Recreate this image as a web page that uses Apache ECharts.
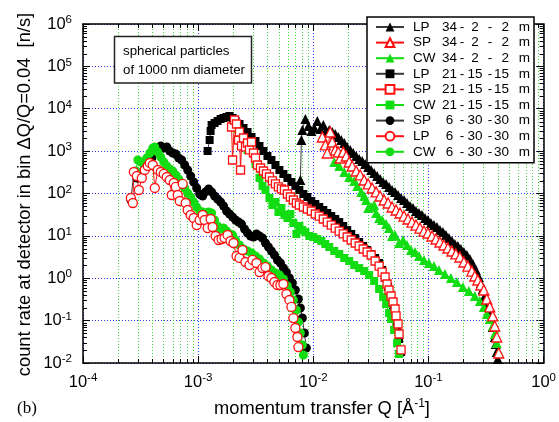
<!DOCTYPE html>
<html>
<head>
<meta charset="utf-8">
<script src="https://cdn.jsdelivr.net/npm/echarts@6/dist/echarts.min.js"></script>
<style>
  html, body { margin: 0; padding: 0; background: #fff; }
  #chart { width: 559px; height: 422px; }
</style>
</head>
<body>
<div id="chart"></div>
<script>
// Momentum transfer Q [1/Å] and count rate [n/s] for each instrument setting.

// collimation 34 m, detector 2 m
const lp34Q = [7.72e-3,7.88e-3,8.04e-3,8.53e-3,9.06e-3,9.62e-3,1.020e-2,1.083e-2,1.150e-2,1.221e-2,1.296e-2,1.376e-2,1.461e-2,1.551e-2,1.646e-2,1.748e-2,1.856e-2,1.970e-2,2.092e-2,2.220e-2,2.357e-2,2.502e-2,2.656e-2,2.820e-2,2.994e-2,3.178e-2,3.374e-2,3.582e-2,3.803e-2,4.037e-2,4.286e-2,4.550e-2,4.830e-2,5.128e-2,5.444e-2,5.780e-2,6.136e-2,6.514e-2,6.916e-2,7.341e-2,7.793e-2,8.273e-2,8.783e-2,9.325e-2,9.901e-2,0.1051,0.1116,0.1185,0.1258,0.1335,0.1418,0.1505,0.1598,0.1696,0.1801,0.1912,0.2030,0.2155,0.2288,0.2429,0.2579,0.2737,0.2848,0.2964,0.3085,0.3210,0.3341,0.3476,0.3618,0.3765,0.3841,0.3919,0.3998];
const lp34Rate = [208,1832,3154,5731,3919,2987,3516,5141,3330,4138,2987,3154,2829,2538,2157,1832,1557,1253,1065,903,767,652,585,497,422,359,305,259,220,187,168,143,121,109,92.2,78.3,70.3,59.7,50.7,45.5,38.6,34.7,31.1,26.4,23.7,20.1,18.0,16.2,13.7,12.3,10.5,8.91,7.57,6.43,5.77,4.90,4.16,3.54,2.85,2.17,1.57,1.07,0.773,0.558,0.381,0.261,0.169,0.109,0.0707,0.0411,0.0281,0.0182,0.0124];

const sp34Q = [1.197e-2,1.271e-2,1.322e-2,1.404e-2,1.461e-2,1.551e-2,1.646e-2,1.713e-2,1.819e-2,1.931e-2,2.050e-2,2.177e-2,2.357e-2,2.553e-2,2.764e-2,2.994e-2,3.242e-2,3.512e-2,3.803e-2,4.119e-2,4.460e-2,4.830e-2,5.231e-2,5.666e-2,6.136e-2,6.645e-2,7.197e-2,7.793e-2,8.440e-2,9.141e-2,9.901e-2,0.1073,0.1162,0.1258,0.1362,0.1476,0.1598,0.1730,0.1875,0.2030,0.2199,0.2381,0.2527,0.2683,0.2848,0.3024,0.3210,0.3408,0.3618,0.3765,0.3919,0.4077];
const sp34Rate = [2157,1397,903,2829,1644,1065,954,688,954,767,554,446,340,274,208,168,135,109,87.3,70.3,59.7,48.0,40.8,34.7,29.4,25.0,21.2,18.0,15.3,13.0,11.7,9.93,8.44,7.17,6.09,5.17,4.40,3.74,3.17,2.42,1.94,1.48,1.13,0.909,0.693,0.528,0.324,0.210,0.129,0.0747,0.0411,0.0172];

const cw34Q = [1.520e-2,1.679e-2,1.856e-2,2.050e-2,2.265e-2,2.405e-2,2.604e-2,2.764e-2,2.877e-2,2.994e-2,3.178e-2,3.374e-2,3.512e-2,3.728e-2,3.958e-2,4.286e-2,4.550e-2,4.830e-2,5.128e-2,5.554e-2,6.015e-2,6.514e-2,7.055e-2,7.640e-2,8.273e-2,9.141e-2,0.1010,0.1116,0.1233,0.1390,0.1567,0.1765,0.1990,0.2242,0.2527,0.2792,0.3024,0.3210,0.3408,0.3618,0.3765,0.3919,0.4077];
const cw34Rate = [554,446,322,245,198,151,109,87.3,70.3,45.5,48.0,53.5,34.7,26.4,23.7,19.0,15.3,9.93,10.5,6.79,7.99,6.09,4.64,4.16,3.35,2.70,2.29,1.94,1.57,1.26,1.014,0.816,0.622,0.500,0.381,0.291,0.210,0.143,0.109,0.0747,0.0483,0.0296,0.0182];

// collimation 21 m, detector 15 m
const lp21Q = [1.208e-3,1.258e-3,1.283e-3,1.309e-3,1.389e-3,1.475e-3,1.566e-3,1.662e-3,1.765e-3,1.873e-3,1.989e-3,2.112e-3,2.287e-3,2.477e-3,2.683e-3,2.906e-3,3.147e-3,3.408e-3,3.691e-3,3.997e-3,4.329e-3,4.689e-3,5.078e-3,5.500e-3,5.957e-3,6.452e-3,6.988e-3,7.568e-3,8.197e-3,8.878e-3,9.615e-3,1.041e-2,1.127e-2,1.221e-2,1.322e-2,1.432e-2,1.551e-2,1.679e-2,1.819e-2,1.970e-2,2.134e-2,2.311e-2,2.502e-2,2.710e-2,2.935e-2,3.178e-2,3.442e-2,3.728e-2,3.958e-2,4.201e-2,4.460e-2,4.735e-2,4.928e-2,5.128e-2,5.337e-2,5.554e-2,5.780e-2];
const lp21Rate = [1007,1832,2987,4138,4612,5141,5731,6051,6389,6745,6051,5141,4368,3516,2829,2157,1736,1323,1007,767,618,471,359,289,232,187,151,121,97.3,82.7,66.5,56.5,48.0,40.8,34.7,29.4,25.0,21.2,17.1,13.7,11.1,8.91,7.17,5.77,4.64,3.74,3.01,2.29,1.57,1.014,0.622,0.361,0.222,0.129,0.0707,0.0368,0.0182];

const sp21Q = [1.950e-3,1.989e-3,2.070e-3,2.154e-3,2.242e-3,2.287e-3,2.333e-3,2.380e-3,2.477e-3,2.578e-3,2.683e-3,2.792e-3,2.906e-3,3.024e-3,3.147e-3,3.275e-3,3.477e-3,3.691e-3,3.918e-3,4.160e-3,4.416e-3,4.689e-3,4.978e-3,5.285e-3,5.611e-3,5.957e-3,6.324e-3,6.714e-3,7.128e-3,7.568e-3,8.197e-3,8.878e-3,9.615e-3,1.041e-2,1.127e-2,1.221e-2,1.322e-2,1.432e-2,1.551e-2,1.679e-2,1.819e-2,1.970e-2,2.134e-2,2.311e-2,2.502e-2,2.710e-2,2.935e-2,3.178e-2,3.442e-2,3.728e-2,3.958e-2,4.201e-2,4.372e-2,4.550e-2,4.735e-2,4.928e-2,5.128e-2,5.231e-2,5.444e-2,5.554e-2,5.780e-2];
const sp21Rate = [3712,618,5428,4368,1832,2829,359,1323,2043,1253,1557,1065,1644,903,688,471,400,340,289,245,198,168,143,128,121,97.3,82.7,70.3,59.7,53.5,48.0,43.1,38.6,32.8,29.4,25.0,21.2,18.0,15.3,13.0,11.1,9.41,7.99,6.79,5.77,4.90,4.16,3.54,2.55,1.94,1.40,1.07,0.732,0.528,0.381,0.275,0.188,0.129,0.0832,0.0483,0.0203];

const cw21Q = [2.198e-3,2.683e-3,3.147e-3,3.408e-3,3.618e-3,3.841e-3,4.160e-3,4.416e-3,4.689e-3,4.978e-3,5.285e-3,5.611e-3,5.957e-3,6.324e-3,6.714e-3,7.128e-3,7.568e-3,8.035e-3,8.530e-3,9.239e-3,1.000e-2,1.083e-2,1.173e-2,1.271e-2,1.376e-2,1.520e-2,1.679e-2,1.856e-2,2.050e-2,2.265e-2,2.502e-2,2.764e-2,3.054e-2,3.374e-2,3.728e-2,4.037e-2,4.286e-2,4.550e-2,4.735e-2,5.027e-2,5.337e-2,5.554e-2];
const cw21Rate = [3330,1065,497,232,151,121,78.3,53.5,63.0,36.6,45.5,31.1,26.4,32.8,20.1,11.1,17.1,13.7,12.3,9.93,9.41,8.44,7.57,6.43,5.46,4.40,3.74,3.01,2.55,2.05,1.74,1.48,1.19,0.861,0.558,0.361,0.247,0.151,0.109,0.0601,0.0296,0.0163];

// collimation 6 m, detector 30 m
const sp6Q = [2.604e-4,2.764e-4,2.935e-4,3.116e-4,3.374e-4,3.654e-4,3.958e-4,4.201e-4,4.460e-4,4.735e-4,5.027e-4,5.337e-4,5.666e-4,6.015e-4,6.386e-4,6.779e-4,7.197e-4,7.640e-4,8.110e-4,8.610e-4,9.141e-4,9.705e-4,1.030e-3,1.094e-3,1.161e-3,1.233e-3,1.309e-3,1.389e-3,1.475e-3,1.566e-3,1.662e-3,1.765e-3,1.873e-3,1.989e-3,2.112e-3,2.242e-3,2.380e-3,2.527e-3,2.683e-3,2.848e-3,3.024e-3,3.210e-3,3.408e-3,3.618e-3,3.841e-3,4.078e-3,4.329e-3,4.596e-3,4.880e-3,5.181e-3,5.500e-3,5.839e-3,6.199e-3,6.582e-3,6.988e-3,7.419e-3,7.721e-3,8.035e-3,8.362e-3,8.702e-3];
const sp6Rate = [70.3,322,232,289,359,446,688,954,1124,1323,1187,1253,1007,903,855,688,618,471,359,259,187,135,97.3,87.3,109,128,109,87.3,74.2,63.0,50.7,38.6,32.8,27.9,23.7,21.2,19.0,14.5,11.7,9.93,9.41,11.1,9.93,8.91,6.79,5.46,4.40,3.54,2.70,2.29,1.74,1.40,1.014,0.773,0.528,0.324,0.199,0.115,0.0510,0.0226];

const lp6Q = [2.604e-4,2.710e-4,2.764e-4,2.935e-4,3.054e-4,3.242e-4,3.442e-4,3.654e-4,3.803e-4,4.037e-4,4.201e-4,4.460e-4,4.735e-4,5.027e-4,5.337e-4,5.666e-4,5.896e-4,6.136e-4,6.386e-4,6.645e-4,6.916e-4,7.341e-4,7.793e-4,8.110e-4,8.610e-4,9.141e-4,9.705e-4,1.030e-3,1.094e-3,1.138e-3,1.208e-3,1.283e-3,1.335e-3,1.417e-3,1.505e-3,1.597e-3,1.696e-3,1.800e-3,1.911e-3,2.029e-3,2.154e-3,2.287e-3,2.428e-3,2.578e-3,2.792e-3,2.964e-3,3.210e-3,3.408e-3,3.618e-3,3.841e-3,4.078e-3,4.329e-3,4.596e-3,4.880e-3,5.181e-3,5.500e-3,5.839e-3,6.199e-3,6.452e-3,6.714e-3,6.988e-3,7.272e-3,7.419e-3];
const lp6Rate = [78.3,59.7,322,259,121,232,359,446,525,471,135,359,322,289,245,208,92.2,177,143,92.2,66.5,168,59.7,40.8,31.1,26.4,18.0,23.7,31.1,23.7,15.3,25.0,16.2,9.93,7.99,8.44,8.91,10.5,7.57,6.79,3.35,3.01,4.64,2.42,2.05,2.70,2.29,1.40,1.74,1.84,1.13,1.014,0.816,0.693,0.693,0.732,0.425,0.307,0.210,0.115,0.0670,0.0411,0.0238];

const cw6Q = [2.877e-4,2.994e-4,3.178e-4,3.374e-4,3.582e-4,3.803e-4,4.037e-4,4.201e-4,4.460e-4,4.735e-4,5.027e-4,5.337e-4,5.666e-4,6.015e-4,6.386e-4,6.779e-4,7.197e-4,7.640e-4,8.110e-4,8.610e-4,9.141e-4,9.705e-4,1.030e-3,1.094e-3,1.161e-3,1.233e-3,1.309e-3,1.389e-3,1.475e-3,1.566e-3,1.662e-3,1.765e-3,1.873e-3,1.989e-3,2.112e-3,2.287e-3,2.477e-3,2.683e-3,2.906e-3,3.147e-3,3.408e-3,3.691e-3,3.997e-3,4.329e-3,4.689e-3,5.078e-3,5.500e-3,5.957e-3,6.324e-3,6.714e-3,7.128e-3,7.419e-3,7.721e-3,8.035e-3,8.197e-3];
const cw6Rate = [340,618,554,497,688,903,1187,1253,954,727,554,446,379,340,274,220,177,135,103,82.7,63.0,48.0,38.6,36.6,34.7,36.6,34.7,23.7,17.1,14.5,15.3,13.0,11.1,10.5,7.99,6.09,4.90,4.40,3.94,3.35,2.85,2.29,1.94,1.57,1.33,1.19,0.960,0.656,0.474,0.307,0.178,0.0928,0.0510,0.0266,0.0154];

// legend text columns
const legendMode  = ['LP', 'SP', 'CW', 'LP', 'SP', 'CW', 'SP', 'LP', 'CW'];
const legendSetup = [['34','2','2'], ['34','2','2'], ['34','2','2'],
                     ['21','15','15'], ['21','15','15'], ['21','15','15'],
                     ['6','30','30'], ['6','30','30'], ['6','30','30']];

// axis ranges (decades) and minor tick mantissas
const qDecades    = [1e-4, 1e-3, 1e-2, 1e-1, 1];
const rateDecades = [1e-2, 1e-1, 1, 1e1, 1e2, 1e3, 1e4, 1e5, 1e6];
const mantissas   = [2, 3, 4, 5, 6, 7, 8, 9];

const FONT = '"Liberation Sans", Arial, Helvetica, sans-serif';
const BLACK = '#000000', RED = '#ff1010', GREEN = '#12dc12';
const Q_MIN = qDecades[0], Q_MAX = qDecades[qDecades.length - 1];
const R_MIN = rateDecades[0], R_MAX = rateDecades[rateDecades.length - 1];

const zip = (q, r) => q.map((v, i) => [v, r[i]]);

const seriesNames = legendMode.map((m, i) => m + ' ' + legendSetup[i].join('-') + ' m');

// [index in legend, Q, rate, symbol, size, edge colour, fill, line colour]
const plotOrder = [
  [0, lp34Q, lp34Rate, 'triangle', 10, BLACK, BLACK, '#3a3a3a'],
  [3, lp21Q, lp21Rate, 'rect', 8, BLACK, BLACK, '#3a3a3a'],
  [6, sp6Q, sp6Rate, 'circle', 9, BLACK, BLACK, '#3a3a3a'],
  [2, cw34Q, cw34Rate, 'triangle', 10, GREEN, GREEN, GREEN],
  [5, cw21Q, cw21Rate, 'rect', 8, GREEN, GREEN, GREEN],
  [8, cw6Q, cw6Rate, 'circle', 9, GREEN, GREEN, GREEN],
  [1, sp34Q, sp34Rate, 'triangle', 10, RED, '#ffffff', RED],
  [4, sp21Q, sp21Rate, 'rect', 8, RED, '#ffffff', RED],
  [7, lp6Q, lp6Rate, 'circle', 9, RED, '#ffffff', RED]
];

const dataSeries = plotOrder.map(([k, q, r, sym, size, edge, fill, line]) => ({
  name: seriesNames[k],
  type: 'line',
  data: zip(q, r),
  symbol: sym,
  symbolSize: size,
  showAllSymbol: true,
  lineStyle: { color: line, width: 1 },
  itemStyle: { color: fill, borderColor: edge, borderWidth: fill === '#ffffff' ? 1.3 : 0 },
  emphasis: { disabled: true },
  silent: true,
  z: 3
}));

const qMinor = [];
qDecades.slice(0, -1).forEach(d => mantissas.forEach(m => qMinor.push([d * m, R_MIN])));
const rateMinor = [];
rateDecades.slice(0, -1).forEach(d => mantissas.forEach(m => rateMinor.push([Q_MIN, d * m])));

// green dotted minor grid with short inner ticks on bottom and top edges
const qMinorSeries = {
  type: 'custom', silent: true, z: 1, clip: false,
  data: qMinor,
  renderItem(params, api) {
    const v = api.value(0);
    const b = api.coord([v, R_MIN]), t = api.coord([v, R_MAX]);
    const x = Math.round(b[0]) + 0.5;
    return { type: 'group', children: [
      { type: 'line', shape: { x1: x, y1: b[1], x2: x, y2: t[1] },
        style: { stroke: '#3ddc3d', lineWidth: 1, lineDash: [1, 2] } },
      { type: 'line', shape: { x1: x, y1: b[1], x2: x, y2: b[1] - 4 },
        style: { stroke: '#000', lineWidth: 1 } },
      { type: 'line', shape: { x1: x, y1: t[1], x2: x, y2: t[1] + 4 },
        style: { stroke: '#000', lineWidth: 1 } }
    ]};
  }
};

// minor ticks on the left and right edges
const rateMinorSeries = {
  type: 'custom', silent: true, z: 4, clip: false,
  data: rateMinor,
  renderItem(params, api) {
    const v = api.value(1);
    const l = api.coord([Q_MIN, v]), r = api.coord([Q_MAX, v]);
    const y = Math.round(l[1]) + 0.5;
    return { type: 'group', children: [
      { type: 'line', shape: { x1: l[0], y1: y, x2: l[0] + 4, y2: y },
        style: { stroke: '#000', lineWidth: 1 } },
      { type: 'line', shape: { x1: r[0], y1: y, x2: r[0] - 4, y2: y },
        style: { stroke: '#000', lineWidth: 1 } }
    ]};
  }
};

const expLabel = v => '{b|10}{s|' + Math.round(Math.log10(v)) + '}';
const tickRich = {
  b: { fontSize: 16.5, fontFamily: FONT, color: '#000', lineHeight: 20 },
  s: { fontSize: 11.5, fontFamily: FONT, color: '#000', verticalAlign: 'top', lineHeight: 13 }
};

const frameLine = { show: true, onZero: false, lineStyle: { color: '#000', width: 1.5 } };
const majorTick = { show: true, inside: true, length: 7, lineStyle: { color: '#000', width: 1 } };
const blueGrid = { show: true, lineStyle: { color: '#2a3cff', width: 1, type: [1, 2] } };

const legendRich = {};
const tokenWidths = { g: [4, 'left'], md: [29, 'left'], a: [15, 'right'], d1: [10, 'center'],
                      b: [16, 'right'], d2: [14, 'center'], c: [12, 'right'], u: [21, 'right'] };
Object.keys(tokenWidths).forEach(k => {
  legendRich[k] = { width: tokenWidths[k][0], align: tokenWidths[k][1], fontSize: 13.5,
                    fontFamily: FONT, color: '#000', lineHeight: 15.6 };
});

const option = {
  animation: false,
  backgroundColor: '#fff',
  grid: { left: 83, top: 24, right: 14, bottom: 59, containLabel: false },
  xAxis: [
    { type: 'log', logBase: 10, min: Q_MIN, max: Q_MAX, position: 'bottom',
      axisLine: frameLine, axisTick: majorTick, splitLine: blueGrid, minorTick: { show: false },
      axisLabel: { formatter: expLabel, rich: tickRich, margin: 9, showMinLabel: true, showMaxLabel: true } },
    { type: 'log', logBase: 10, min: Q_MIN, max: Q_MAX, position: 'top',
      axisLine: frameLine, axisTick: majorTick, splitLine: { show: false }, axisLabel: { show: false } }
  ],
  yAxis: [
    { type: 'log', logBase: 10, min: R_MIN, max: R_MAX, interval: 1, splitNumber: 8, position: 'left',
      axisLine: frameLine, axisTick: majorTick, splitLine: blueGrid,
      axisLabel: { formatter: expLabel, rich: tickRich, margin: 11, showMinLabel: true, showMaxLabel: true } },
    { type: 'log', logBase: 10, min: R_MIN, max: R_MAX, interval: 1, splitNumber: 8, position: 'right',
      axisLine: frameLine, axisTick: majorTick, splitLine: { show: false }, axisLabel: { show: false } }
  ],
  legend: {
    data: seriesNames,
    orient: 'vertical',
    left: 367, top: 17,
    padding: [2.2, 4, 3.2, 8],
    itemGap: 0,
    itemWidth: 28, itemHeight: 11,
    backgroundColor: '#fff',
    borderColor: '#000', borderWidth: 1.5,
    selectedMode: false,
    textStyle: { fontSize: 13.5, fontFamily: FONT, color: '#000', lineHeight: 15.6, rich: legendRich },
    formatter: name => {
      const i = seriesNames.indexOf(name);
      const s = legendSetup[i];
      return '{g| }{md|' + legendMode[i] + '}{a|' + s[0] + '}{d1|-}{b|' + s[1] + '}{d2|-}{c|' + s[2] + '}{u|m}';
    },
    z: 10
  },
  graphic: [
    { type: 'rect', z: 20, shape: { x: 114.5, y: 36.5, width: 137, height: 46.5 },
      style: { fill: '#fff', stroke: '#222', lineWidth: 1.5 } },
    { type: 'text', z: 21, x: 123, y: 51.5,
      style: { text: 'spherical particles', font: '13.3px ' + FONT, fill: '#000', verticalAlign: 'middle' } },
    { type: 'text', z: 21, x: 123, y: 70,
      style: { text: 'of 1000 nm diameter', font: '13.3px ' + FONT, fill: '#000', verticalAlign: 'middle' } },
    { type: 'text', z: 21, x: 24.5, y: 194.5, rotation: Math.PI / 2,
      style: { text: 'count rate at detector in bin \u0394Q/Q=0.04  [n/s]', font: '18.3px ' + FONT,
               fill: '#000', align: 'center', verticalAlign: 'middle' } },
    { type: 'text', z: 21, x: 322, y: 409,
      style: { text: '{t|momentum transfer Q [\u00c5}{s|-1}{t|]}', align: 'center', verticalAlign: 'middle',
               rich: { t: { fontSize: 18.3, fontFamily: FONT, color: '#000', lineHeight: 22 },
                       s: { fontSize: 12, fontFamily: FONT, color: '#000', verticalAlign: 'top', lineHeight: 13 } } } },
    { type: 'text', z: 21, x: 17, y: 409,
      style: { text: '(b)', font: '17px "Liberation Serif", "Times New Roman", serif', fill: '#000', verticalAlign: 'middle' } }
  ],
  series: [qMinorSeries, ...dataSeries, rateMinorSeries]
};

const chart = echarts.init(document.getElementById('chart'), null, { renderer: 'canvas' });
chart.setOption(option);
</script>
</body>
</html>
